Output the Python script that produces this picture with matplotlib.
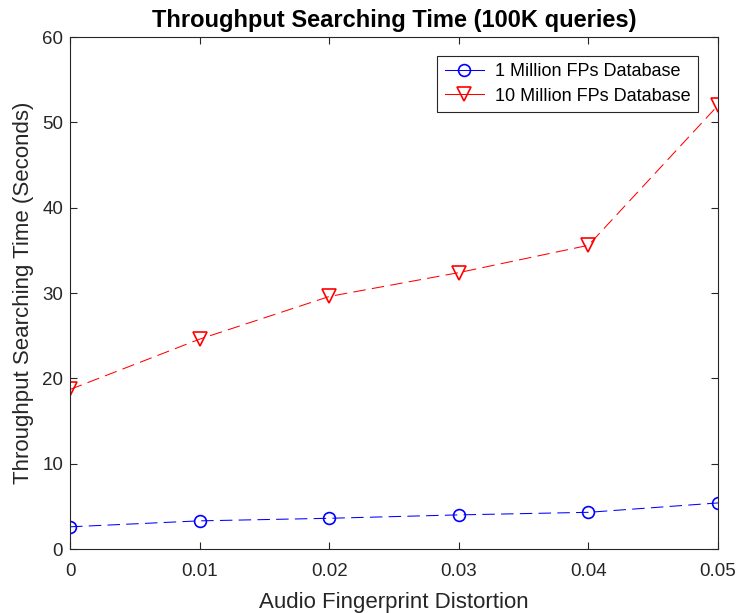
import numpy as np
import matplotlib
matplotlib.use("Agg")
import matplotlib.pyplot as plt

plt.rcParams['font.family'] = ['Liberation Sans', 'DejaVu Sans']

# Data
distortion = [0, 0.01, 0.02, 0.03, 0.04, 0.05]
time_1m = [2.6, 3.3, 3.6, 4.0, 4.3, 5.4]
time_10m = [18.7, 24.6, 29.6, 32.4, 35.6, 52.0]

fig = plt.figure(figsize=(7.38, 6.13), dpi=100)
ax = fig.add_axes([0.0949, 0.1044, 0.878, 0.835])

ax.plot(distortion, time_1m, color="b", linestyle=(0, (12, 6)), linewidth=0.75,
        marker="o", markersize=8.5, markerfacecolor="none", markeredgewidth=1.2,
        label="1 Million FPs Database")
ax.plot(distortion, time_10m, color="r", linestyle=(0, (12, 6)), linewidth=0.75,
        marker="v", markersize=10, markerfacecolor="none", markeredgewidth=1.2,
        label="10 Million FPs Database")

ax.set_xlim(0, 0.05)
ax.set_ylim(0, 60)
ax.set_xticks(distortion)
ax.set_xticklabels(["0", "0.01", "0.02", "0.03", "0.04", "0.05"])
ax.set_yticks(range(0, 61, 10))

ax.tick_params(direction="in", top=True, right=True, labelsize=13.5,
               colors="#262626", length=5, width=0.8)
ax.tick_params(axis="x", pad=10)
ax.tick_params(axis="y", pad=5)
for s in ax.spines.values():
    s.set_color("#262626")
    s.set_linewidth(0.8)

ax.set_xlabel("Audio Fingerprint Distortion", fontsize=16, color="#262626",
              labelpad=9)
ax.set_ylabel("Throughput Searching Time (Seconds)", fontsize=16,
              color="#262626", labelpad=6)
ax.set_title("Throughput Searching Time (100K queries)", fontsize=17,
             fontweight="bold", pad=7)

leg = ax.legend(loc="upper right", bbox_to_anchor=(0.969, 0.963), fontsize=13,
                fancybox=False, framealpha=1, edgecolor="#262626",
                handlelength=2.2, handletextpad=0.6, borderpad=0.4,
                labelspacing=0.4, borderaxespad=0)
leg.get_frame().set_linewidth(0.8)
for ln in leg.get_lines():
    ln.set_linestyle("-")

fig.savefig("out.png", dpi=100)
